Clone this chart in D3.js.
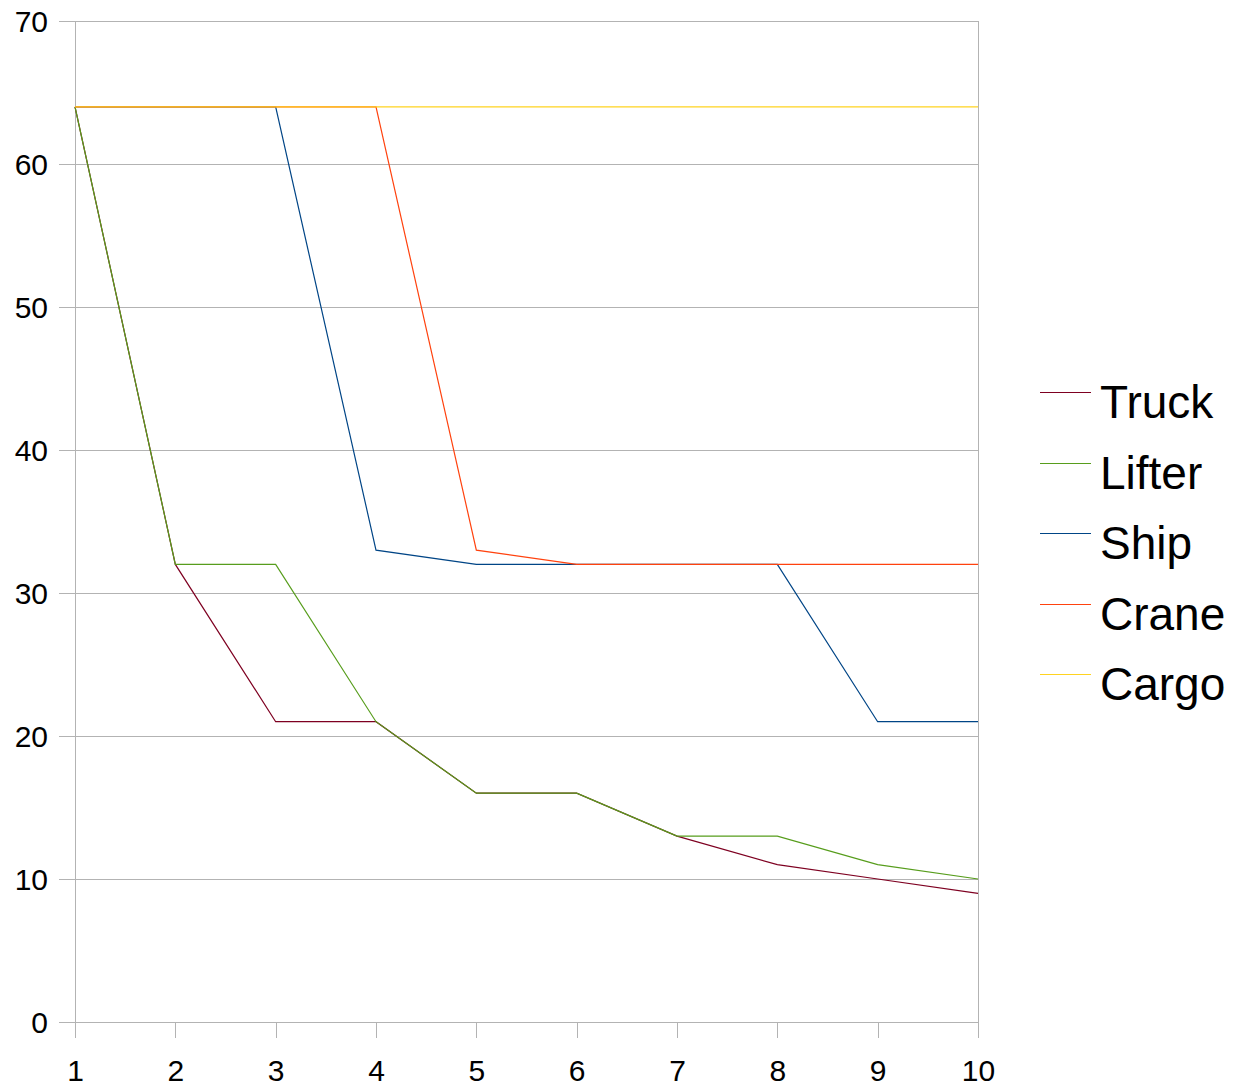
<!DOCTYPE html>
<html><head><meta charset="utf-8">
<script src="https://cdn.jsdelivr.net/npm/d3@7"></script>
<style>body{margin:0;background:#fff}svg{display:block}text{font-family:"Liberation Sans",Arial,sans-serif}</style>
</head><body>
<svg id="c" width="1234" height="1086"></svg>
<script>
const xValues = [1,2,3,4,5,6,7,8,9,10];
const seriesNames = ["Truck","Lifter","Ship","Crane","Cargo"];
const truck  = [64,32,21,21,16,16,13,11,10,9];
const lifter = [64,32,32,21,16,16,13,13,11,10];
const ship   = [64,64,64,33,32,32,32,32,21,21];
const crane  = [64,64,64,64,33,32,32,32,32,32];
const cargo  = [64,64,64,64,64,64,64,64,64,64];
const colors = ["#7e0021","#579d1c","#004586","#ff420e","#ffd320"];
const yTicks = [0,10,20,30,40,50,60,70];

const series = [truck, lifter, ship, crane, cargo];
const svg = d3.select("#c");
const L = 75, R = 978, T = 21, B = 1022;
const x = d3.scaleLinear().domain([1,10]).range([L,R]);
const y = d3.scaleLinear().domain([0,70]).range([B,T]);
const grid = "#b3b3b3";

const yAxis = d3.axisLeft(y).tickValues(yTicks).tickSize(16).tickFormat(d3.format("d"));
const gy = svg.append("g").attr("transform",`translate(${L},0)`).call(yAxis);
gy.select(".domain").remove();
gy.selectAll(".tick line").attr("stroke",grid).attr("x2",R-L).attr("x1",-16).attr("shape-rendering","crispEdges");
gy.selectAll(".tick text").attr("x",-27).attr("dy","0.35em").style("font-size","30px").attr("fill","#000");

const xAxis = d3.axisBottom(x).tickValues(xValues).tickSize(16).tickFormat(d3.format("d"));
const gx = svg.append("g").attr("transform",`translate(0,${B})`).call(xAxis);
gx.select(".domain").remove();
gx.selectAll(".tick line").attr("stroke",grid).attr("shape-rendering","crispEdges");
gx.selectAll(".tick text").attr("y",38).attr("dy","0.71em").style("font-size","30px").attr("fill","#000");

svg.append("line").attr("x1",L).attr("x2",L).attr("y1",T).attr("y2",B).attr("stroke",grid).attr("shape-rendering","crispEdges");
svg.append("line").attr("x1",R).attr("x2",R).attr("y1",T).attr("y2",B+16).attr("stroke",grid).attr("shape-rendering","crispEdges");

const line = d3.line().x((d,i)=>x(xValues[i])).y(d=>y(d));
series.forEach((s,i)=>{
  svg.append("path").datum(s).attr("d",line).attr("fill","none").attr("stroke",colors[i]).attr("stroke-width",1.2);
});

const lg = svg.append("g");
seriesNames.forEach((n,i)=>{
  const yy = Math.round(392 + i*70.5) + 0.5;
  lg.append("line").attr("x1",1040).attr("x2",1091).attr("y1",yy).attr("y2",yy).attr("stroke",colors[i]).attr("stroke-width",1.2);
  lg.append("text").attr("x",1100).attr("y",yy+25).text(n).style("font-size","46px").attr("fill","#000");
});
</script>
</body></html>
